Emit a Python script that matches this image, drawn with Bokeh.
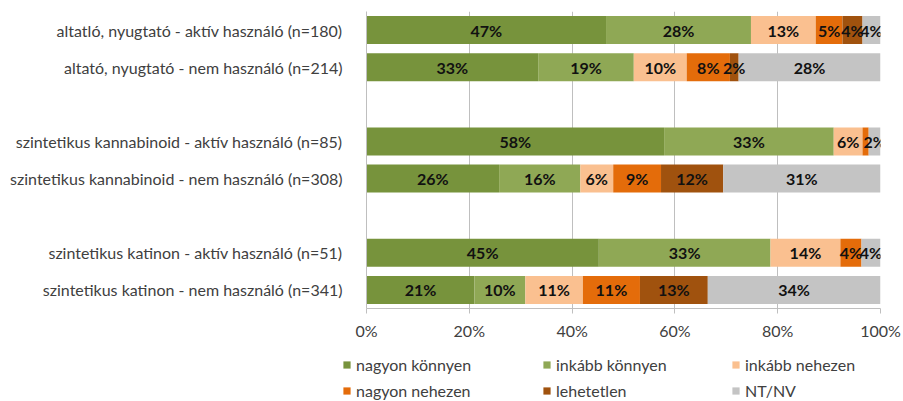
import numpy as np
from bokeh.plotting import figure
from bokeh.layouts import column
from bokeh.models import ColumnDataSource, FactorRange, Legend, LegendItem, NumeralTickFormatter, FixedTicker
from bokeh.core.properties import value
from bokeh.embed import file_html
from bokeh.resources import INLINE

categories = [
    "altatló, nyugtató - aktív használó (n=180)",
    "altató, nyugtató - nem használó (n=214)",
    "szintetikus kannabinoid - aktív használó (n=85)",
    "szintetikus kannabinoid - nem használó (n=308)",
    "szintetikus katinon - aktív használó (n=51)",
    "szintetikus katinon - nem használó (n=341)",
]
series = ["nagyon könnyen", "inkább könnyen", "inkább nehezen", "nagyon nehezen", "lehetetlen", "NT/NV"]
nagyon_konnyen = [46.6, 33.4, 57.9, 25.8, 45.2, 21.0]
inkabb_konnyen = [28.2, 18.6, 33.0, 15.8, 33.4, 9.9]
inkabb_nehezen = [12.6, 10.3, 5.6, 6.4, 13.6, 11.2]
nagyon_nehezen = [5.2, 8.4, 1.2, 9.3, 4.1, 11.1]
lehetetlen = [3.9, 1.7, 0.0, 12.1, 0.0, 13.2]
nt_nv = [3.5, 27.6, 2.3, 30.6, 3.7, 33.6]
colors = ["#77933C", "#8FA855", "#FAC090", "#E46C0A", "#A0520E", "#C4C4C4"]
x_ticks = [0, 0.2, 0.4, 0.6, 0.8, 1.0]

values = [nagyon_konnyen, inkabb_konnyen, inkabb_nehezen, nagyon_nehezen, lehetetlen, nt_nv]
keys = ["s%d" % i for i in range(len(series))]

factors_top_down = [categories[0], categories[1], " ", categories[2], categories[3], "  ", categories[4], categories[5]]
y_range = FactorRange(factors=list(reversed(factors_top_down)), range_padding=0)

data = {"cat": categories}
for k, v in zip(keys, values):
    data[k] = [x / 100.0 for x in v]
src = ColumnDataSource(data)

FONT = "Lato"
FS = "16px"
p = figure(y_range=y_range, x_range=(0, 1), frame_width=514, frame_height=297,
           min_border_left=366, min_border_right=23, min_border_top=11, min_border_bottom=40,
           output_backend="svg", toolbar_location=None)
p.outline_line_color = None
p.background_fill_color = "white"

renderers = p.hbar_stack(keys, y="cat", height=0.755, color=colors, line_color=None, source=src)

arr = np.array(values, dtype=float)
cum = np.cumsum(arr, axis=0)
lx, ly, lt = [], [], []
for j, cat in enumerate(categories):
    for i in range(len(series)):
        v = arr[i, j]
        if v < 1.5:
            continue
        lx.append((cum[i, j] - v / 2.0) / 100.0)
        ly.append(cat)
        lt.append("%d%%" % int(round(v)))
lsrc = ColumnDataSource(dict(x=lx, y=ly, t=lt))
p.text(x="x", y="y", text="t", source=lsrc, text_align="center", text_baseline="middle",
       text_font=value(FONT), text_font_size=FS, text_font_style="bold", text_color="#111111")

p.xaxis.ticker = FixedTicker(ticks=x_ticks)
p.xaxis.formatter = NumeralTickFormatter(format="0%")
p.xaxis.axis_line_color = "#BFBFBF"
p.xaxis.major_tick_line_color = "#BFBFBF"
p.xaxis.major_tick_out = 5
p.xaxis.major_tick_in = 0
p.xaxis.minor_tick_line_color = None
p.xaxis.major_label_text_font = FONT
p.xaxis.major_label_text_font_size = FS
p.xaxis.major_label_text_color = "#404040"
p.xaxis.major_label_standoff = 7

p.yaxis.axis_line_color = "#BFBFBF"
p.yaxis.major_tick_line_color = None
p.yaxis.major_label_text_font = FONT
p.yaxis.major_label_text_font_size = FS
p.yaxis.major_label_text_color = "#404040"
p.yaxis.major_label_standoff = 18

p.xgrid.grid_line_color = "#BFBFBF"
p.xgrid.ticker = FixedTicker(ticks=x_ticks)
p.ygrid.grid_line_color = None

# legend strip below the chart
p2 = figure(width=903, height=53, x_range=(0, 1), y_range=(0, 1), min_border=0,
            x_axis_location=None, y_axis_location=None, output_backend="svg", toolbar_location=None)
p2.frame_align = False
p2.outline_line_color = None
p2.grid.grid_line_color = None
dummy = ColumnDataSource(dict(y=[5], left=[0], right=[0]))
leg_r = [p2.hbar(y="y", left="left", right="right", height=0.5, color=c, line_color=None, source=dummy)
         for c in colors]
col_x = [342, 542, 731]
for c in range(3):
    items = [LegendItem(label=series[c], renderers=[leg_r[c]]),
             LegendItem(label=series[c + 3], renderers=[leg_r[c + 3]])]
    lg = Legend(items=items, location=(col_x[c], 1), orientation="vertical",
                padding=0, margin=0, spacing=6, glyph_width=9, glyph_height=9,
                label_height=20, label_standoff=5, border_line_color=None,
                background_fill_alpha=0, label_text_font=FONT, label_text_font_size=FS,
                label_text_color="#404040")
    p2.add_layout(lg, "center")

open("out.html", "w").write(file_html(column(p, p2, spacing=0), INLINE))
